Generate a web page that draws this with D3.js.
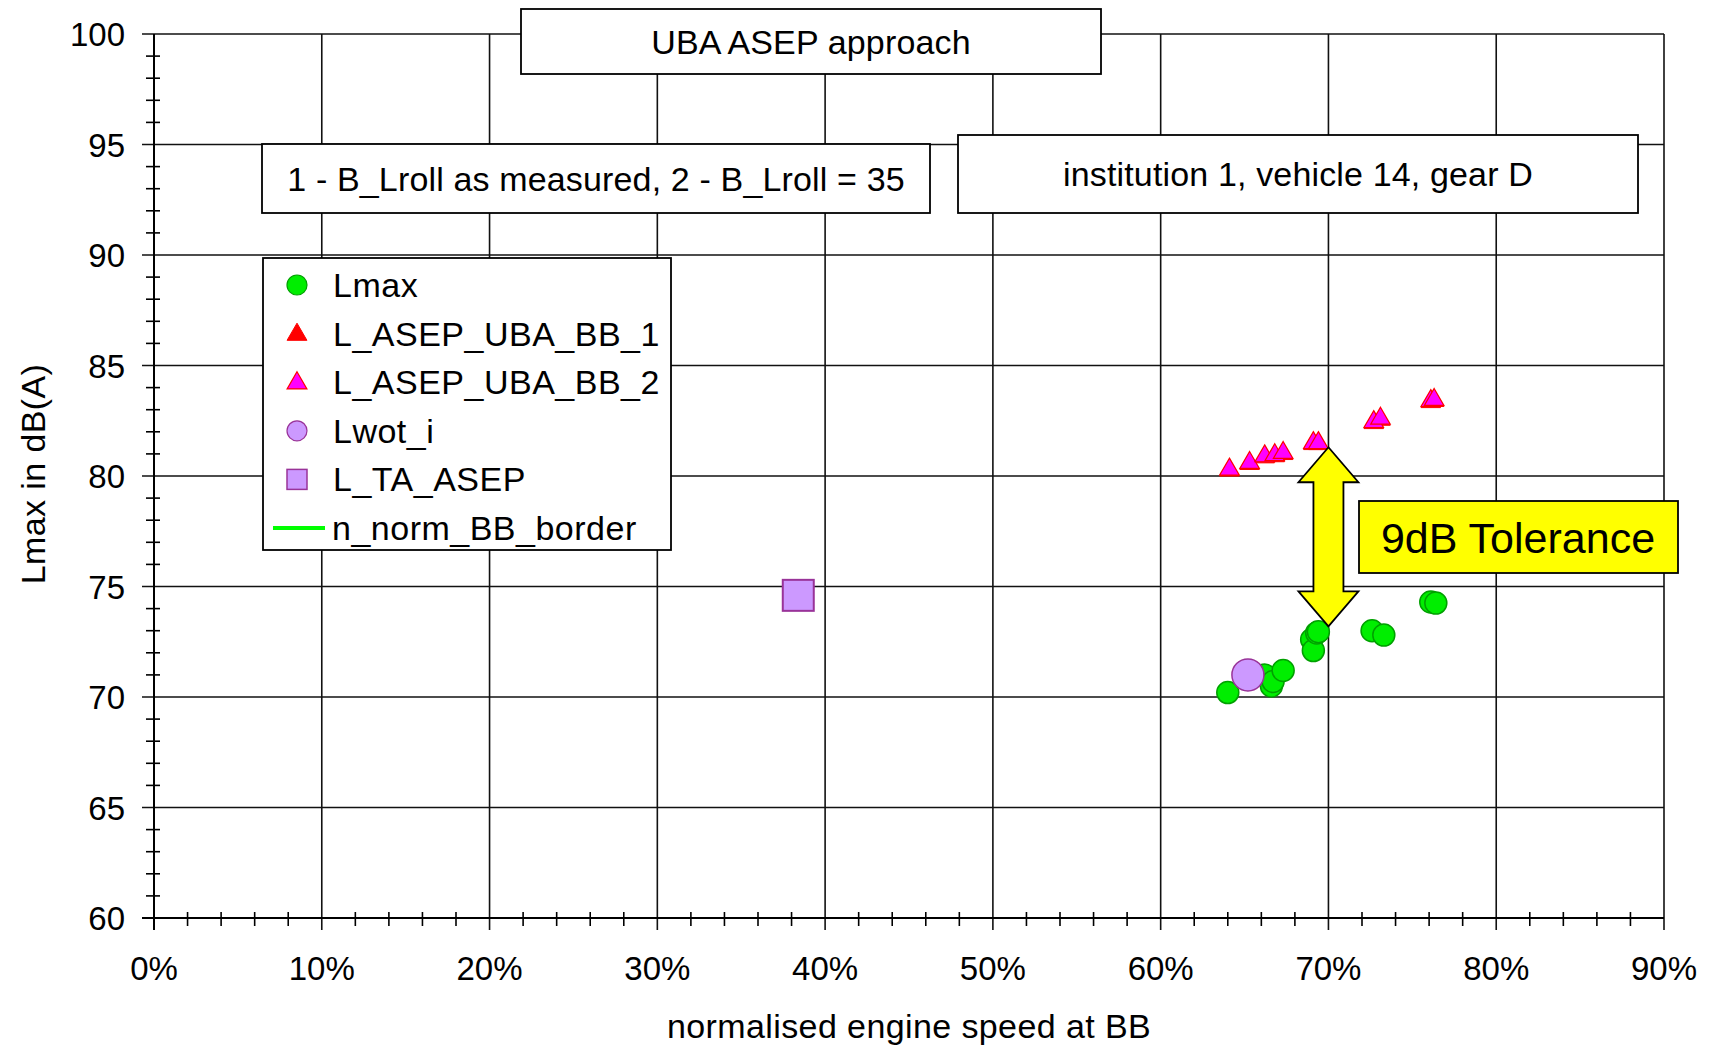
<!DOCTYPE html>
<html>
<head>
<meta charset="utf-8">
<script src="https://cdn.jsdelivr.net/npm/d3@7"></script>
<style>
  body { margin: 0; background: #fff; }
  text { font-family: Arial, "Liberation Sans", sans-serif; fill: #000; }
</style>
</head>
<body>
<div id="viz-container"></div>
<script>
// values (x in %, y in dB(A))
let lmaxX = [64.0, 66.2, 66.6, 66.7, 67.3, 69.0, 69.1, 69.3, 69.4, 72.6, 73.3, 76.1, 76.4]
let lmaxY = [70.2, 71.0, 70.5, 70.7, 71.2, 72.6, 72.1, 72.9, 72.95, 73.0, 72.8, 74.3, 74.25]
let bb1X = [64.1, 65.3, 66.2, 66.8, 67.3, 69.1, 69.4, 72.7, 73.1, 76.1, 76.3]
let bb1Y = [80.25, 80.55, 80.85, 80.9, 81.0, 81.45, 81.45, 82.4, 82.55, 83.35, 83.4]
let bb2X = [64.1, 65.3, 66.2, 66.8, 67.3, 69.1, 69.4, 72.7, 73.1, 76.1, 76.3]
let bb2Y = [80.3, 80.6, 80.9, 80.95, 81.05, 81.5, 81.5, 82.45, 82.6, 83.4, 83.45]
let lwotX = [65.2]
let lwotY = [71.0]
let taX = [38.4]
let taY = [74.6]

let xTicks = [0, 10, 20, 30, 40, 50, 60, 70, 80, 90]
let yTicks = [60, 65, 70, 75, 80, 85, 90, 95, 100]
let legendLabels = ['Lmax', 'L_ASEP_UBA_BB_1', 'L_ASEP_UBA_BB_2', 'Lwot_i', 'L_TA_ASEP', 'n_norm_BB_border']
let arrowX = 70
let arrowFrom = 73.2
let arrowTo = 81.3

let w = 1709, h = 1046
let pLeft = 154, pRight = 1664, pTop = 34, pBottom = 918
let fs = '34px'

let viz = d3.select("#viz-container")
    .append("svg")
    .attr('width', w)
    .attr('height', h)

let x = d3.scaleLinear().domain([0, 90]).range([pLeft, pRight])
let y = d3.scaleLinear().domain([60, 100]).range([pBottom, pTop])

// grid
viz.selectAll('.vgrid').data(xTicks.slice(1)).enter()
    .append('line')
    .attr('x1', d => x(d)).attr('x2', d => x(d))
    .attr('y1', pTop).attr('y2', pBottom + 12)
    .attr('stroke', '#111').attr('stroke-width', 1.6)
viz.selectAll('.hgrid').data(yTicks).enter()
    .append('line')
    .attr('x1', pLeft - 12).attr('x2', pRight)
    .attr('y1', d => y(d)).attr('y2', d => y(d))
    .attr('stroke', '#111').attr('stroke-width', 1.6)

// axes lines
viz.append('line').attr('x1', pLeft).attr('x2', pLeft).attr('y1', pTop).attr('y2', pBottom + 12)
    .attr('stroke', '#000').attr('stroke-width', 2)
viz.append('line').attr('x1', pLeft - 12).attr('x2', pRight).attr('y1', pBottom).attr('y2', pBottom)
    .attr('stroke', '#000').attr('stroke-width', 2)

// minor ticks
let xMinor = d3.range(0, 91, 2).filter(d => d % 10 != 0)
viz.selectAll('.xminor').data(xMinor).enter()
    .append('line')
    .attr('x1', d => x(d)).attr('x2', d => x(d))
    .attr('y1', pBottom - 6).attr('y2', pBottom + 8)
    .attr('stroke', '#000').attr('stroke-width', 1.6)
let yMinor = d3.range(60, 101, 1).filter(d => d % 5 != 0)
viz.selectAll('.yminor').data(yMinor).enter()
    .append('line')
    .attr('x1', pLeft - 8).attr('x2', pLeft + 6)
    .attr('y1', d => y(d)).attr('y2', d => y(d))
    .attr('stroke', '#000').attr('stroke-width', 1.6)

// tick labels
viz.selectAll('.xlab').data(xTicks).enter()
    .append('text')
    .attr('x', d => x(d))
    .attr('y', 980)
    .attr('text-anchor', 'middle')
    .attr('font-size', '33px')
    .text(d => d + '%')
viz.selectAll('.ylab').data(yTicks).enter()
    .append('text')
    .attr('x', 125)
    .attr('y', d => y(d) + 12)
    .attr('text-anchor', 'end')
    .attr('font-size', '33px')
    .text(d => d)

// axis titles
viz.append('text')
    .attr('x', (pLeft + pRight) / 2)
    .attr('y', 1038)
    .attr('text-anchor', 'middle')
    .attr('font-size', fs)
    .attr('letter-spacing', '0.4px')
    .text('normalised engine speed at BB')
viz.append('text')
    .attr('transform', 'translate(45,' + (y(80) - 2) + ') rotate(-90)')
    .attr('text-anchor', 'middle')
    .attr('font-size', fs)
    .attr('letter-spacing', '0.4px')
    .text('Lmax in dB(A)')

// text boxes
function textBox(x0, y0, bw, bh, label) {
    viz.append('rect')
        .attr('x', x0).attr('y', y0).attr('width', bw).attr('height', bh)
        .attr('fill', '#fff').attr('stroke', '#000').attr('stroke-width', 1.8)
    viz.append('text')
        .attr('x', x0 + bw / 2).attr('y', y0 + bh / 2 + 12)
        .attr('text-anchor', 'middle')
        .attr('font-size', fs)
        .attr('letter-spacing', '0.15px')
        .text(label)
}
textBox(521, 9, 580, 65, 'UBA ASEP approach')
textBox(262, 144, 668, 69, '1 - B_Lroll as measured, 2 - B_Lroll = 35')
textBox(958, 135, 680, 78, 'institution 1, vehicle 14, gear D')

// data
let tri = d3.symbol().type(d3.symbolTriangle).size(165)

viz.selectAll('.lmax').data(d3.zip(lmaxX, lmaxY)).enter()
    .append('circle')
    .attr('cx', d => x(d[0])).attr('cy', d => y(d[1]))
    .attr('r', 11)
    .attr('fill', '#00ee00').attr('stroke', '#00a000').attr('stroke-width', 1.5)

viz.selectAll('.lwot').data(d3.zip(lwotX, lwotY)).enter()
    .append('circle')
    .attr('cx', d => x(d[0])).attr('cy', d => y(d[1]))
    .attr('r', 16)
    .attr('fill', '#cc99ff').attr('stroke', '#993399').attr('stroke-width', 1.5)

viz.selectAll('.bb1').data(d3.zip(bb1X, bb1Y)).enter()
    .append('path')
    .attr('d', tri)
    .attr('transform', d => 'translate(' + x(d[0]) + ',' + y(d[1]) + ')')
    .attr('fill', '#ff0000').attr('stroke', '#ff0000').attr('stroke-width', 1)

viz.selectAll('.bb2').data(d3.zip(bb2X, bb2Y)).enter()
    .append('path')
    .attr('d', tri)
    .attr('transform', d => 'translate(' + x(d[0]) + ',' + y(d[1]) + ')')
    .attr('fill', '#ff00ff').attr('stroke', '#ff0000').attr('stroke-width', 1.2)

viz.selectAll('.ta').data(d3.zip(taX, taY)).enter()
    .append('rect')
    .attr('x', d => x(d[0]) - 15.5).attr('y', d => y(d[1]) - 15.5)
    .attr('width', 31).attr('height', 31)
    .attr('fill', '#cc99ff').attr('stroke', '#993399').attr('stroke-width', 2)

// yellow double arrow
let ax = x(arrowX), aTop = y(arrowTo), aBot = y(arrowFrom)
let headW = 30, shaftW = 15, headH = 35
let arrowPts = [
    [ax, aTop], [ax + headW, aTop + headH], [ax + shaftW, aTop + headH],
    [ax + shaftW, aBot - headH], [ax + headW, aBot - headH], [ax, aBot],
    [ax - headW, aBot - headH], [ax - shaftW, aBot - headH],
    [ax - shaftW, aTop + headH], [ax - headW, aTop + headH]
]
viz.append('path')
    .attr('d', d3.line()(arrowPts) + 'Z')
    .attr('fill', '#ffff00').attr('stroke', '#000').attr('stroke-width', 1.8)

// tolerance label
viz.append('rect')
    .attr('x', 1359).attr('y', 501).attr('width', 319).attr('height', 72)
    .attr('fill', '#ffff00').attr('stroke', '#000').attr('stroke-width', 1.8)
viz.append('text')
    .attr('x', 1518).attr('y', 553)
    .attr('text-anchor', 'middle')
    .attr('font-size', '43px')
    .text('9dB Tolerance')

// legend
let lg = viz.append('g').attr('transform', 'translate(263,258)')
lg.append('rect')
    .attr('width', 408).attr('height', 292)
    .attr('fill', '#fff').attr('stroke', '#000').attr('stroke-width', 1.8)
let rowY = i => 27 + i * 48.6
lg.selectAll('.ltext').data(legendLabels).enter()
    .append('text')
    .attr('x', (d, i) => i == 5 ? 69 : 70)
    .attr('y', (d, i) => rowY(i) + 12)
    .attr('font-size', fs)
    .attr('letter-spacing', '0.5px')
    .text(d => d)
lg.append('circle').attr('cx', 34).attr('cy', rowY(0)).attr('r', 10)
    .attr('fill', '#00ee00').attr('stroke', '#00a000').attr('stroke-width', 1.2)
lg.append('path').attr('d', d3.symbol().type(d3.symbolTriangle).size(170))
    .attr('transform', 'translate(34,' + (rowY(1) + 1) + ')')
    .attr('fill', '#ff0000').attr('stroke', '#ff0000')
lg.append('path').attr('d', d3.symbol().type(d3.symbolTriangle).size(170))
    .attr('transform', 'translate(34,' + (rowY(2) + 1) + ')')
    .attr('fill', '#ff00ff').attr('stroke', '#ff0000').attr('stroke-width', 1.2)
lg.append('circle').attr('cx', 34).attr('cy', rowY(3)).attr('r', 10)
    .attr('fill', '#cc99ff').attr('stroke', '#993399').attr('stroke-width', 1.2)
lg.append('rect').attr('x', 24).attr('y', rowY(4) - 10).attr('width', 20).attr('height', 20)
    .attr('fill', '#cc99ff').attr('stroke', '#993399').attr('stroke-width', 1.5)
lg.append('line').attr('x1', 10).attr('x2', 62).attr('y1', rowY(5)).attr('y2', rowY(5))
    .attr('stroke', '#00ff00').attr('stroke-width', 4)
</script>
</body>
</html>
